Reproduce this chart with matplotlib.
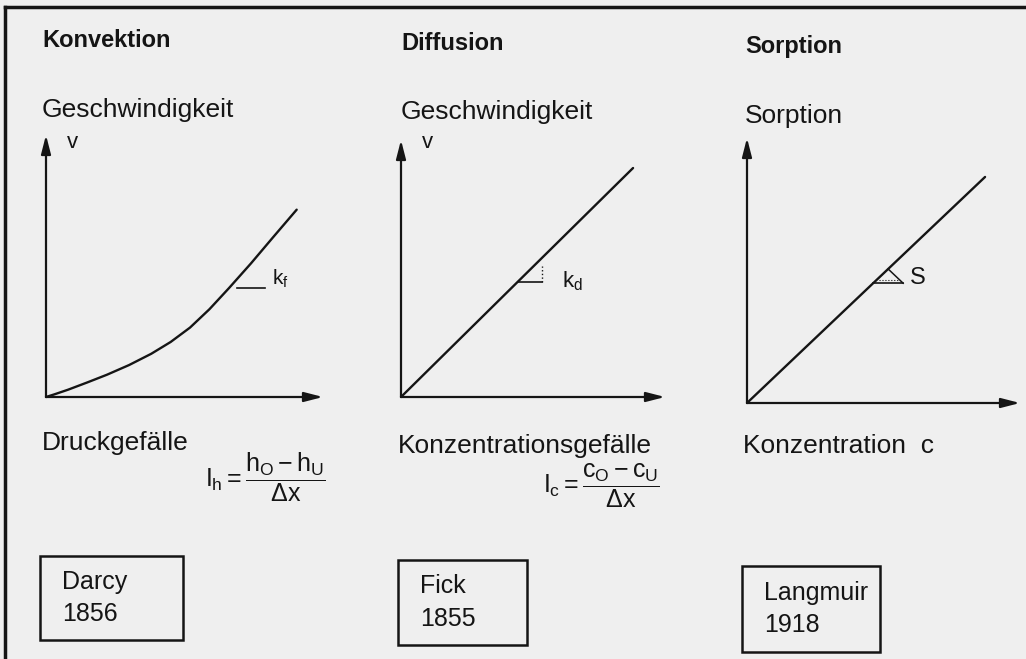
import matplotlib
matplotlib.use("Agg")
import matplotlib.pyplot as plt
from matplotlib.patches import Rectangle
from matplotlib.lines import Line2D

plt.rcParams["font.family"] = ["Liberation Sans", "DejaVu Sans"]
plt.rcParams["mathtext.fontset"] = "custom"
plt.rcParams["mathtext.rm"] = "Liberation Sans"
plt.rcParams["mathtext.it"] = "Liberation Sans"
plt.rcParams["mathtext.bf"] = "Liberation Sans:bold"

# data
titles = ["Konvektion", "Diffusion", "Sorption"]
y_labels = ["Geschwindigkeit", "Geschwindigkeit", "Sorption"]
x_labels = ["Druckgefälle", "Konzentrationsgefälle", "Konzentration  c"]
laws = ["Darcy\n1856", "Fick\n1855", "Langmuir\n1918"]
slope_labels = [r"k$_f$", r"k$_d$", "S"]
axis_marks = ["v", "v", ""]
formulas = [r"$I_h = \dfrac{h_O - h_U}{\Delta x}$", r"$I_c = \dfrac{c_O - c_U}{\Delta x}$", ""]

conv_x = [0, 0.03, 0.08, 0.15, 0.22, 0.3, 0.38, 0.45, 0.52, 0.59, 0.66, 0.74, 0.82, 0.905]
conv_y = [0, 0.01, 0.028, 0.056, 0.085, 0.122, 0.165, 0.21, 0.265, 0.335, 0.415, 0.51, 0.61, 0.715]
diff_x = [0, 0.879]
diff_y = [0, 0.891]
sorp_x = [0, 0.872]
sorp_y = [0, 0.853]
curves = [(conv_x, conv_y), (diff_x, diff_y), (sorp_x, sorp_y)]

W, H = 1026, 659
ink = "#151515"
bg = "#efefef"


def fx(x):
    return x / W


def fy(y):
    return 1 - y / H


fig = plt.figure(figsize=(W / 100, H / 100), dpi=100, facecolor=bg)

# panel geometry in pixels: origin x, origin y, width, height
panels = [(46, 397, 277, 262), (401, 397, 264, 257), (747, 403, 273, 265)]
title_pos = [(42, 47), (401, 50), (745, 53)]
ylab_pos = [(42, 117), (401, 119), (745, 123)]
xlab_pos = [(42, 450), (398, 453), (743, 453)]
formula_pos = [(265, 477), (601, 486)]
boxes = [(40, 556, 143, 84), (398, 560, 129, 85), (742, 566, 138, 86)]
mark_pos = [(0.075, 0.97), (0.08, 0.99)]
# slope triangles: start on line (x), horizontal leg length, label position
tri = [(0.664, 0.13, (0.815, 0.45)), (0.443, 0.091, (0.61, 0.45)), (0.462, 0.11, (0.595, 0.47))]

for i, (x0, y0, w, h) in enumerate(panels):
    ax = fig.add_axes([fx(x0), fy(y0), fx(w), h / H])
    ax.set_xlim(0, 1)
    ax.set_ylim(0, 1)
    ax.axis("off")
    ax.patch.set_alpha(0)

    arr = dict(arrowstyle="-|>,head_length=0.7,head_width=0.18", lw=1.6,
               color=ink, shrinkA=0, shrinkB=0, mutation_scale=16)
    ax.annotate("", xy=(1, 0), xytext=(0, 0), arrowprops=arr, annotation_clip=False)
    ax.annotate("", xy=(0, 1), xytext=(0, 0), arrowprops=arr, annotation_clip=False)

    cx, cy = curves[i]
    ax.plot(cx, cy, color=ink, lw=1.7, clip_on=False, solid_capstyle="round",
            solid_joinstyle="round")

    # slope marker
    tx, tl, lab = tri[i]
    if i == 0:
        ty = conv_y[10]
        ax.plot([conv_x[10] + 0.03, conv_x[10] + tl], [ty, ty], color=ink, lw=1.2)
        ax.text(lab[0], lab[1], slope_labels[i], fontsize=15, color=ink, va="center")
    else:
        s = cy[1] / cx[1]
        ty = tx * s
        ax.plot([tx, tx + tl], [ty, ty], color=ink, lw=1.2)
        if i == 1:
            ax.plot([tx + tl, tx + tl], [ty, ty + 0.06], color=ink, lw=1.0, ls=":")
            ax.text(lab[0], lab[1], slope_labels[i], fontsize=16, color=ink, va="center")
        else:
            ax.plot([tx + tl, tx + tl / 2], [ty, (tx + tl / 2) * s], color=ink, lw=1.1)
            ax.plot([tx + 0.02, tx + tl - 0.01], [ty + 0.012, ty + 0.012], color=ink, lw=0.8, ls=":")
            ax.text(lab[0], lab[1], slope_labels[i], fontsize=17, color=ink, va="center")

    if axis_marks[i]:
        ax.text(mark_pos[i][0], mark_pos[i][1], axis_marks[i], fontsize=16, color=ink, va="center")

    # texts around the panel
    fig.text(fx(title_pos[i][0]), fy(title_pos[i][1]), titles[i], fontsize=17,
             fontweight="bold", color=ink, va="baseline")
    fig.text(fx(ylab_pos[i][0]), fy(ylab_pos[i][1]), y_labels[i], fontsize=19,
             color=ink, va="baseline")
    fig.text(fx(xlab_pos[i][0]), fy(xlab_pos[i][1]), x_labels[i], fontsize=19,
             color=ink, va="baseline")
    if formulas[i]:
        fig.text(fx(formula_pos[i][0]), fy(formula_pos[i][1]), formulas[i], fontsize=18,
                 color=ink, ha="center", va="center")

    bx, by, bw, bh = boxes[i]
    fig.add_artist(Rectangle((fx(bx), fy(by + bh)), fx(bw), bh / H, transform=fig.transFigure,
                             fill=False, edgecolor=ink, lw=1.8))
    fig.text(fx(bx + 22), fy(by + bh / 2), laws[i], fontsize=18, color=ink,
             ha="left", va="center", linespacing=1.45)

# scan frame
fig.add_artist(Line2D([fx(5), 1], [fy(7), fy(7)], transform=fig.transFigure, color=ink, lw=2.5))
fig.add_artist(Line2D([fx(5), fx(5)], [0, fy(7)], transform=fig.transFigure, color=ink, lw=2.5))

fig.savefig("out.png", dpi=100, facecolor=bg)
